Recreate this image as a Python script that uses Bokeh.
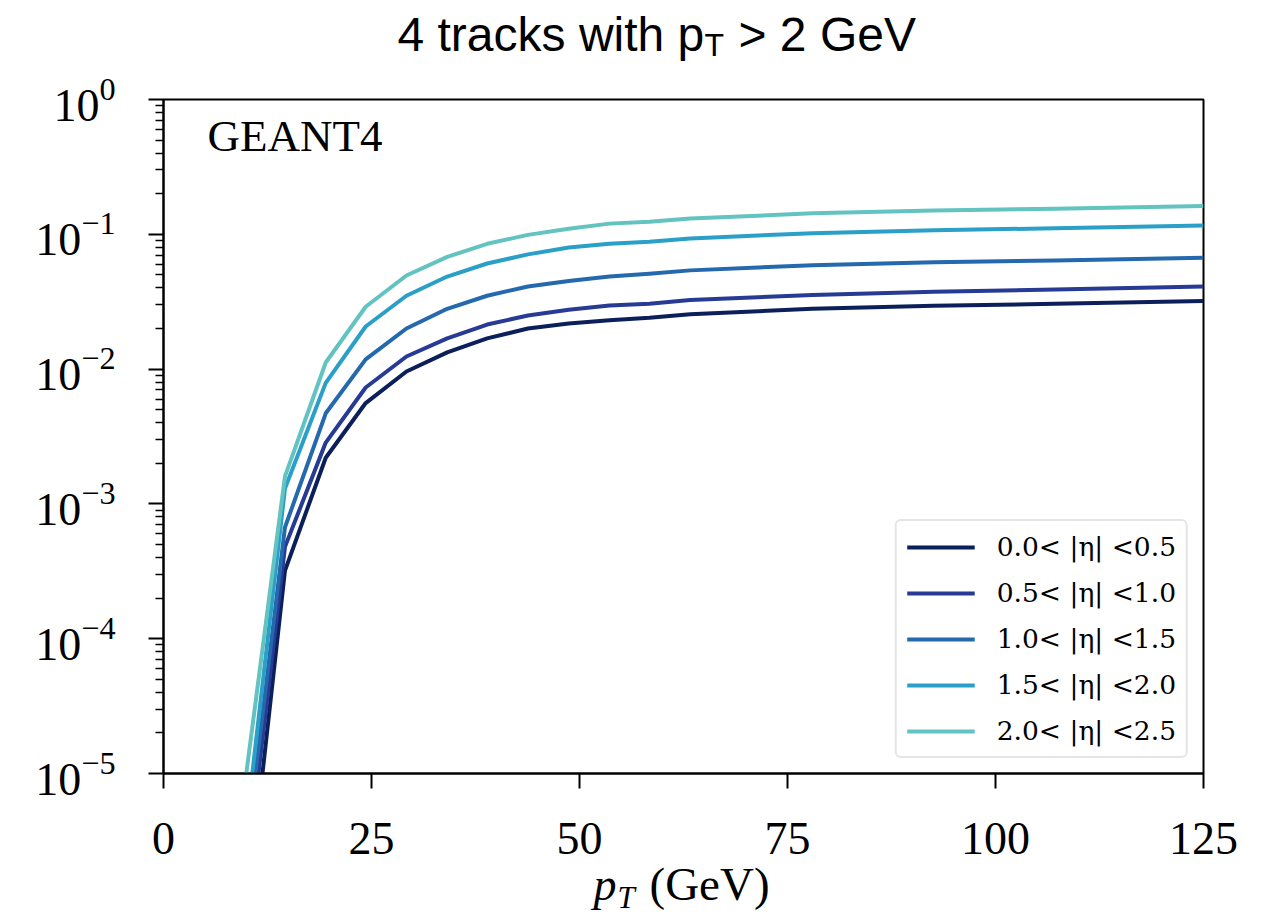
from bokeh.plotting import figure
from bokeh.models import FixedTicker, Legend, LegendItem, Range1d
from bokeh.layouts import column
from bokeh.core.properties import value
from bokeh.embed import file_html
from bokeh.resources import INLINE

# ---- data ----
pt = [9.7, 14.6, 19.5, 24.3, 29.2, 34.1, 38.9, 43.8, 48.7, 53.6, 58.4, 63.3, 78.0, 92.6, 107.2, 125.0]
eff_eta_00_05 = [6e-7, 3.2e-4, 2.2e-3, 5.6e-3, 9.6e-3, 1.33e-2, 1.69e-2, 2.0e-2, 2.18e-2, 2.3e-2, 2.4e-2, 2.55e-2, 2.8e-2, 2.95e-2, 3.05e-2, 3.2e-2]
eff_eta_05_10 = [1.25e-6, 4.8e-4, 2.85e-3, 7.3e-3, 1.24e-2, 1.69e-2, 2.14e-2, 2.5e-2, 2.76e-2, 2.96e-2, 3.05e-2, 3.25e-2, 3.55e-2, 3.75e-2, 3.9e-2, 4.1e-2]
eff_eta_10_15 = [2e-6, 6.7e-4, 4.7e-3, 1.18e-2, 2.0e-2, 2.8e-2, 3.5e-2, 4.1e-2, 4.5e-2, 4.86e-2, 5.1e-2, 5.4e-2, 5.9e-2, 6.2e-2, 6.4e-2, 6.7e-2]
eff_eta_15_20 = [3e-6, 1.3e-3, 7.9e-3, 2.07e-2, 3.5e-2, 4.86e-2, 6.07e-2, 7.1e-2, 7.98e-2, 8.5e-2, 8.8e-2, 9.3e-2, 1.02e-1, 1.07e-1, 1.11e-1, 1.16e-1]
eff_eta_20_25 = [7.6e-6, 1.6e-3, 1.12e-2, 2.9e-2, 4.95e-2, 6.8e-2, 8.5e-2, 9.9e-2, 1.10e-1, 1.20e-1, 1.24e-1, 1.31e-1, 1.43e-1, 1.50e-1, 1.55e-1, 1.62e-1]

series_labels = ["0.0< |η| <0.5", "0.5< |η| <1.0", "1.0< |η| <1.5", "1.5< |η| <2.0", "2.0< |η| <2.5"]
series_values = [eff_eta_00_05, eff_eta_05_10, eff_eta_10_15, eff_eta_15_20, eff_eta_20_25]
series_colors = ["#0b1f5a", "#273a94", "#2468ad", "#2a9fc7", "#62c3c0"]

x_ticks = [0, 25, 50, 75, 100, 125]
y_ticks = [1e-5, 1e-4, 1e-3, 1e-2, 1e-1, 1e0]
y_minor = [m * 10.0 ** e for e in range(-5, 0) for m in range(2, 10)]

title_parts = ["4 tracks with p", "T", "> 2 GeV"]
xlabel_parts = ["p", "T", "(GeV)"]
annotation_text = "GEANT4"

# ---- layout geometry (page pixels) ----
W = 1252
FL, FR, FT, FB = 163, 1203, 99, 773     # frame edges on the page
TOP_H = 67                               # title strip height
MAIN_TOP = FT - TOP_H                    # main figure top border
MAIN_BOTTOM = 100                        # main figure bottom border (tick labels)
OVERLAP = 18                             # x-label strip slides up under the tick-label band
BOT_TOP = FB + MAIN_BOTTOM - OVERLAP     # page y where the x-label strip starts
BOT_H = 915 - BOT_TOP

SERIF = "Liberation Serif"
SANS = "Liberation Sans"


def mid(baseline, size):
    # text is drawn centred on y; convert a wanted baseline to that centre
    return baseline - 0.4 * size


def strip(h, y0, **kw):
    # page-pixel coordinates: x in page px, y in page px (top-down)
    s = figure(width=W, height=h, x_range=Range1d(FL, FR), y_range=Range1d(y0 + h, y0),
               output_backend="svg", toolbar_location=None, title=None,
               x_axis_location=None, y_axis_location=None,
               min_border_left=FL, min_border_right=W - FR,
               min_border_top=0, min_border_bottom=0, **kw)
    s.frame_width = FR - FL
    s.frame_height = h
    s.outline_line_color = None
    s.grid.visible = False
    s.background_fill_alpha = 0
    s.border_fill_alpha = 0
    return s


def put(fig, x, baseline, txt, font, size, style="normal"):
    fig.text(x=[x], y=[mid(baseline, size)], text=[txt], text_font=value(font),
             text_font_size=value(f"{size}px"), text_font_style=style,
             text_baseline="middle", text_align="left", text_color="black")


# title strip
top = strip(TOP_H, 0)
put(top, 397, 53.5, title_parts[0], SANS, 48)
put(top, 704, 57, title_parts[1], SANS, 32)
put(top, 738, 53.5, title_parts[2], SANS, 48)

# main plot
p = figure(x_axis_type="linear", y_axis_type="log",
           x_range=Range1d(0, 125), y_range=Range1d(1e-5, 1.0),
           output_backend="svg", toolbar_location=None, title=None,
           min_border_left=FL, min_border_right=W - FR,
           min_border_top=MAIN_TOP, min_border_bottom=MAIN_BOTTOM)
p.frame_width = FR - FL
p.frame_height = FB - FT
p.background_fill_color = "white"
p.border_fill_alpha = 0
p.grid.visible = False
p.outline_line_color = "black"
p.outline_line_width = 2

xa = p.xaxis[0]
xa.ticker = FixedTicker(ticks=x_ticks)
xa.axis_line_width = 2
xa.major_tick_line_width = 2
xa.major_tick_out = 15
xa.major_tick_in = 0
xa.minor_tick_line_color = None
xa.major_label_text_font = SERIF
xa.major_label_text_font_size = "46px"
xa.major_label_text_color = "black"
xa.major_label_standoff = 34

ya = p.yaxis[0]
ya.ticker = FixedTicker(ticks=y_ticks, minor_ticks=y_minor)
ya.axis_line_width = 2
ya.major_tick_line_width = 2
ya.major_tick_out = 15
ya.major_tick_in = 0
ya.minor_tick_line_width = 1.5
ya.minor_tick_out = 8
ya.minor_tick_in = 0
ya.major_label_text_font = SERIF
ya.major_label_text_font_size = "46px"
ya.major_label_text_color = "black"
ya.major_label_standoff = 33

renderers = []
for vals, col in zip(series_values, series_colors):
    r = p.line(pt, vals, line_color=col, line_width=4, line_join="round")
    renderers.append(r)

legend = Legend(items=[LegendItem(label=lab, renderers=[r]) for lab, r in zip(series_labels, renderers)],
                location="bottom_right")
legend.margin = 15
legend.padding = 10
legend.spacing = 15
legend.glyph_width = 68
legend.glyph_height = 30
legend.label_height = 30
legend.label_standoff = 22
legend.label_text_font = "DejaVu Serif"
legend.label_text_font_size = "26.5px"
legend.label_text_color = "black"
legend.border_line_color = "#cccccc"
legend.border_line_width = 2
legend.border_radius = 6
legend.background_fill_alpha = 0.85
p.add_layout(legend, "center")

# in-plot annotation, anchored in data space near the frame's top-left corner
gx = (207 - FL) / (FR - FL) * 125.0
gy = 10 ** (-5 + 5 * (FB - mid(153, 45)) / (FB - FT))
p.text(x=[gx], y=[gy], text=[annotation_text], text_font=value(SERIF), text_font_size=value("45px"),
       text_baseline="middle", text_align="left", text_color="black")

# x-label strip (slid up by OVERLAP px; transparent so the tick labels stay visible)
bot = strip(BOT_H, BOT_TOP, margin=(-OVERLAP, 0, 0, 0))
put(bot, 593, 902, xlabel_parts[0], SERIF, 46, "italic")
put(bot, 617, 909, xlabel_parts[1], SERIF, 31, "italic")
put(bot, 649, 902, xlabel_parts[2], SERIF, 47)

layout = column(top, p, bot, spacing=0)
open("out.html", "w").write(file_html(layout, INLINE))
